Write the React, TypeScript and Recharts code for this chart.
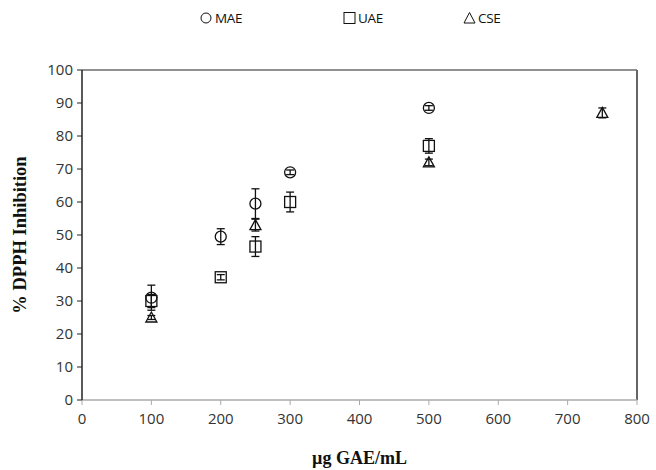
import React from 'react';
import { ScatterChart, Scatter, XAxis, YAxis, ErrorBar, ReferenceLine, Legend } from 'recharts';

const maeX = [100, 200, 250, 300, 500];
const maeY = [31, 49.5, 59.5, 69, 88.5];
const maeErr = [3.8, 2.4, 4.5, 0.7, 0.7];

const uaeX = [100, 200, 250, 300, 500];
const uaeY = [30, 37.2, 46.5, 60, 77];
const uaeErr = [2, 0.8, 3, 3, 2.2];

const cseX = [100, 250, 500, 750];
const cseY = [25, 53, 72, 87];
const cseErr = [0.6, 1.8, 1, 1.5];

const xTicks = [0, 100, 200, 300, 400, 500, 600, 700, 800];
const yTicks = [0, 10, 20, 30, 40, 50, 60, 70, 80, 90, 100];
const seriesNames = ['MAE', 'UAE', 'CSE'];

const build = (xs: number[], ys: number[], es: number[]) =>
  xs.map((x, i) => ({ x, y: ys[i], err: es[i] }));

const maeData = build(maeX, maeY, maeErr);
const uaeData = build(uaeX, uaeY, uaeErr);
const cseData = build(cseX, cseY, cseErr);

const CircleShape = (p: any) => (
  <circle cx={p.cx} cy={p.cy} r={5.5} fill="none" stroke="#111" strokeWidth={1.3} />
);
const SquareShape = (p: any) => (
  <rect x={p.cx - 5.5} y={p.cy - 5.5} width={11} height={11} fill="none" stroke="#111" strokeWidth={1.3} />
);
const TriangleShape = (p: any) => (
  <path d={`M${p.cx},${p.cy - 5.5} L${p.cx + 5.5},${p.cy + 4.5} L${p.cx - 5.5},${p.cy + 4.5} Z`} fill="none" stroke="#111" strokeWidth={1.3} />
);

const legendSymbols = [
  <circle cx={6} cy={7} r={5} fill="none" stroke="#111" strokeWidth={1} />,
  <rect x={1} y={1.5} width={11} height={11} fill="none" stroke="#111" strokeWidth={1} />,
  <path d="M6.5,1.5 L12,12 L1,12 Z" fill="none" stroke="#111" strokeWidth={1} />,
];
const legendLeft = [200, 343, 463];

const LegendContent = () => (
  <div style={{ position: 'relative', width: 656, height: 30 }}>
    {seriesNames.map((n, i) => (
      <div key={n} style={{ position: 'absolute', left: legendLeft[i], top: 9, display: 'flex', alignItems: 'center', fontFamily: 'Open Sans', fontSize: 13.5, color: '#111', letterSpacing: -0.3 }}>
        <svg width={14} height={14} style={{ marginRight: 1 }}>{legendSymbols[i]}</svg>
        <span>{n}</span>
      </div>
    ))}
  </div>
);

export default function App() {
  const tickStyle = { fontFamily: 'Open Sans', fontSize: 15, fill: '#333' };
  return (
    <div style={{ position: 'absolute', left: 0, top: 0, background: '#fff' }}>
      <ScatterChart width={656} height={470} margin={{ top: 40, right: 19, bottom: 0, left: 0 }}>
        <XAxis
          type="number"
          dataKey="x"
          domain={[0, 800]}
          ticks={xTicks}
          interval={0}
          axisLine={{ stroke: '#aaa', strokeWidth: 1.5 }}
          tickLine={{ stroke: '#aaa' }}
          tickSize={5}
          tickMargin={8}
          tick={tickStyle}
          height={70}
          label={{ value: 'µg GAE/mL', position: 'insideBottom', offset: 6, style: { fontFamily: 'Liberation Serif', fontWeight: 'bold', fontSize: 18, fill: '#111' } }}
        />
        <YAxis
          type="number"
          dataKey="y"
          domain={[0, 100]}
          ticks={yTicks}
          interval={0}
          axisLine={{ stroke: '#222', strokeWidth: 1.5 }}
          tickLine={{ stroke: '#222' }}
          tickSize={5}
          tickMargin={4}
          tick={tickStyle}
          width={82}
          label={{ value: '% DPPH Inhibition', angle: -90, position: 'center', dx: -22, style: { fontFamily: 'Liberation Serif', fontWeight: 'bold', fontSize: 18.5, fill: '#111', textAnchor: 'middle' } }}
        />
        <ReferenceLine y={100} stroke="#222" strokeWidth={1} />
        <ReferenceLine x={800} stroke="#666" strokeWidth={2} />
        <Legend verticalAlign="top" align="left" wrapperStyle={{ top: 0, left: 0 }} content={LegendContent} />
        <Scatter name="MAE" data={maeData} shape={CircleShape} isAnimationActive={false}>
          <ErrorBar dataKey="err" direction="y" width={4} stroke="#111" strokeWidth={1.3} />
        </Scatter>
        <Scatter name="UAE" data={uaeData} shape={SquareShape} isAnimationActive={false}>
          <ErrorBar dataKey="err" direction="y" width={4} stroke="#111" strokeWidth={1.3} />
        </Scatter>
        <Scatter name="CSE" data={cseData} shape={TriangleShape} isAnimationActive={false}>
          <ErrorBar dataKey="err" direction="y" width={4} stroke="#111" strokeWidth={1.3} />
        </Scatter>
      </ScatterChart>
    </div>
  );
}
